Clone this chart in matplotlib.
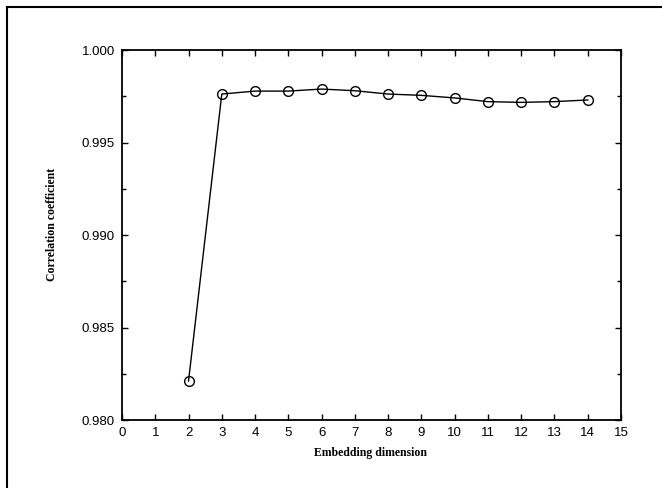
import matplotlib
matplotlib.use("Agg")
import matplotlib.pyplot as plt
from matplotlib.lines import Line2D
from matplotlib.ticker import MultipleLocator

# embedding dimension vs. correlation coefficient
dims = [2, 3, 4, 5, 6, 7, 8, 9, 10, 11, 12, 13, 14]
corr = [0.98211, 0.99762, 0.99778, 0.99778, 0.99789, 0.99780, 0.99762,
        0.99755, 0.99741, 0.99721, 0.99717, 0.99721, 0.99730]

x_ticks = list(range(0, 16))
y_ticks = [0.980, 0.985, 0.990, 0.995, 1.000]

fig = plt.figure(figsize=(6.62, 4.88), dpi=100)
ax = fig.add_axes([0.1843, 0.1393, 0.7537, 0.7582])

ax.plot(dims, corr, color="black", lw=1.0, marker="o", ms=7,
        mfc="none", mec="black", mew=1.0)

ax.set_xlim(0, 15)
ax.set_ylim(0.980, 1.000)
ax.set_xticks(x_ticks)
ax.set_yticks(y_ticks)
ax.set_yticklabels([f"{v:.3f}" for v in y_ticks])
ax.yaxis.set_minor_locator(MultipleLocator(0.0025))

for lab in ax.get_xticklabels() + ax.get_yticklabels():
    lab.set_fontfamily("Liberation Sans")
    lab.set_fontsize(9.5)

ax.tick_params(which="both", direction="in", top=True, right=True,
               width=1.0, color="black")
ax.tick_params(which="major", length=4, pad=5)
ax.tick_params(which="minor", length=3)
for sp in ax.spines.values():
    sp.set_linewidth(1.3)

fig.text(0.559, 0.072, "Embedding dimension", ha="center", va="center",
         family="Liberation Serif", fontsize=8.5, fontweight="bold")
fig.text(0.079, 0.541, "Correlation coefficient", ha="center", va="center",
         rotation=90, family="Liberation Serif", fontsize=8.5,
         fontweight="bold")

# page frame, clipped at the right and bottom edges
fig.add_artist(Line2D([0.011, 0.011], [0.0, 0.986], transform=fig.transFigure,
                      color="black", lw=1.5))
fig.add_artist(Line2D([0.011, 1.0], [0.986, 0.986], transform=fig.transFigure,
                      color="black", lw=1.5))

fig.savefig("out.png", dpi=100)
